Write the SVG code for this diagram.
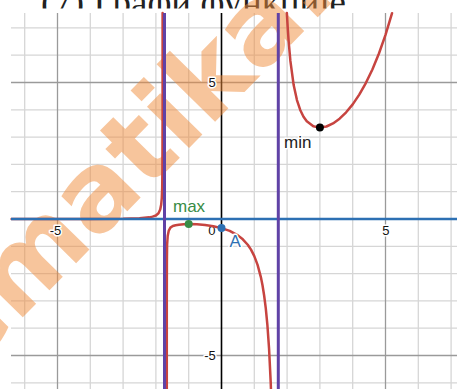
<svg xmlns="http://www.w3.org/2000/svg" width="457" height="389" viewBox="0 0 457 389">
<style>
.minor{stroke:#d6d6d6;stroke-width:1.3}
.major{stroke:#9a9a9a;stroke-width:1.3}
.num{font-family:"Liberation Sans",Arial,sans-serif;font-size:13px;fill:#111;stroke:#fff;stroke-width:3;paint-order:stroke;stroke-linejoin:round}
.lbl{font-family:"Liberation Sans",Arial,sans-serif;font-size:17px;stroke:#fff;stroke-width:3;paint-order:stroke;stroke-linejoin:round}
.asym{stroke:#6042a6;stroke-width:3;fill:none}
.curve{stroke:#c74440;stroke-width:2.5;fill:none;stroke-linejoin:round;stroke-linecap:round}
</style>
<rect width="457" height="389" fill="#fff"/>
<text x="41" y="15" font-family="Liberation Serif,'Times New Roman',serif" font-size="37" fill="#222">(7) Графи функције.</text>
<rect x="0" y="8.5" width="457" height="381" fill="#fff"/>
<g id="grid">
<g class="minor">
<line x1="24.7" y1="13" x2="24.7" y2="389"/><line x1="90.3" y1="13" x2="90.3" y2="389"/><line x1="123.1" y1="13" x2="123.1" y2="389"/><line x1="155.9" y1="13" x2="155.9" y2="389"/><line x1="188.7" y1="13" x2="188.7" y2="389"/><line x1="254.3" y1="13" x2="254.3" y2="389"/><line x1="287.1" y1="13" x2="287.1" y2="389"/><line x1="319.9" y1="13" x2="319.9" y2="389"/><line x1="352.7" y1="13" x2="352.7" y2="389"/><line x1="418.3" y1="13" x2="418.3" y2="389"/><line x1="451.1" y1="13" x2="451.1" y2="389"/>
<line x1="11" y1="27.9" x2="457" y2="27.9"/><line x1="11" y1="55.2" x2="457" y2="55.2"/><line x1="11" y1="109.8" x2="457" y2="109.8"/><line x1="11" y1="137.1" x2="457" y2="137.1"/><line x1="11" y1="164.4" x2="457" y2="164.4"/><line x1="11" y1="191.7" x2="457" y2="191.7"/><line x1="11" y1="246.3" x2="457" y2="246.3"/><line x1="11" y1="273.6" x2="457" y2="273.6"/><line x1="11" y1="300.9" x2="457" y2="300.9"/><line x1="11" y1="328.2" x2="457" y2="328.2"/><line x1="11" y1="382.8" x2="457" y2="382.8"/>
</g>
<g class="major">
<line x1="57.5" y1="13" x2="57.5" y2="389"/><line x1="385.5" y1="13" x2="385.5" y2="389"/>
<line x1="11" y1="82.5" x2="457" y2="82.5"/><line x1="11" y1="355.5" x2="457" y2="355.5"/>
</g>
<line id="y-axis" x1="221.5" y1="13" x2="221.5" y2="389" stroke="#000" stroke-width="1.6"/>
</g>
<text id="watermark" transform="translate(-34.8,375.9) rotate(-45.5)" x="0" y="0" font-family="DejaVu Sans,sans-serif" font-weight="bold" font-size="108" fill="#f08c3c" opacity="0.5">ematika.</text>
<g id="labels-axes">
<text class="num" x="55.5" y="234.5" text-anchor="middle">-5</text>
<text class="num" x="385.8" y="234.5" text-anchor="middle">5</text>
<text class="num" x="215.5" y="234.5" text-anchor="end">0</text>
<text class="num" x="215.7" y="86.5" text-anchor="end">5</text>
<text class="num" x="215.7" y="359.5" text-anchor="end">-5</text>
</g>
<g id="connectors">
<path id="branch1" class="curve" d="M11.6,219 L90.3,218.96 L123.1,218.77 L139.5,218.31 L149.3,217.36 L152.6,216.63 L155.9,215.5 L158.5,213.2 L160.2,209.5 L161.2,204.5 L161.8,198 L162.2,188 L162.4,170 L162.5,143 L162.6,113 L162.6,80 L162.6,13"/>
<line id="x-axis" x1="11" y1="219" x2="457" y2="219" stroke="#2d70b3" stroke-width="2.5"/>
<path id="branch2" class="curve" d="M166.8,389 L166.8,300 L166.9,262 L167.1,245 L167.7,236 L168.8,230.6 L170.4,227.6 L172.8,226 L175.6,225.2 L178.9,224.68 L183.78,224.15 L188.7,224.02 L196.9,224.29 L205.1,225.02 L213.3,226.24 L221.5,228.1 L229.7,230.93 L237.9,235.37 L242.8,239.29 L247.74,244.74 L251,249.66 L254.3,256.1 L257.58,264.82 L260.86,277.1 L262.5,285.28 L264.14,295.47 L265.78,308.43 L267.42,325.45 L269.06,348.7 L270.7,382.1 L270.96,389"/>
<path id="branch3" class="curve" d="M286.87,13 L287.1,17.3 L287.76,28.53 L288.74,42.6 L290.38,60.88 L293.66,85.1 L296.94,100.1 L300.22,109.97 L303.5,116.68 L306.78,121.24 L313.34,126.24 L319.9,127.6 L326.46,126.5 L333.02,123.44 L339.58,118.69 L346.14,112.33 L352.7,104.34 L359.26,94.65 L365.82,83.08 L372.38,69.45 L378.94,53.47 L385.5,34.83 L392.06,13.16"/>
<line id="asym-left" class="asym" x1="164.5" y1="13" x2="164.5" y2="389"/>
<line id="asym-right" class="asym" x1="278.3" y1="13" x2="278.3" y2="389"/>
</g>
<g id="max"><circle cx="188.7" cy="224.02" r="4" fill="#388c46"/><text class="lbl" x="173" y="211.7" fill="#388c46">max</text></g>
<g id="A"><circle cx="221.5" cy="228.1" r="4" fill="#2d70b3"/><text class="lbl" x="229.5" y="247" fill="#2d70b3">A</text></g>
<g id="min"><circle cx="319.9" cy="127.6" r="4" fill="#000"/><text class="lbl" x="284" y="148.3" fill="#222">min</text></g>
</svg>
